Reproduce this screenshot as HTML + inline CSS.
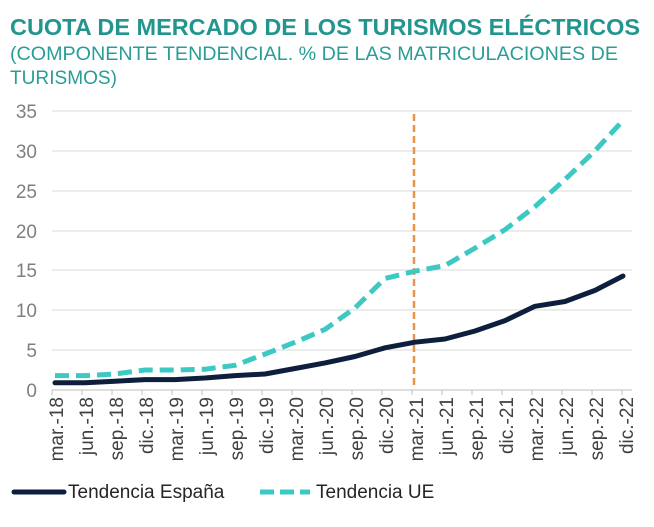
<!DOCTYPE html>
<html><head><meta charset="utf-8"><style>html,body{margin:0;padding:0;background:#fff}svg{display:block}</style></head>
<body>
<svg width="654" height="527" xmlns="http://www.w3.org/2000/svg" font-family="Liberation Sans, Arial, sans-serif">
<text x="10" y="35" font-size="23" font-weight="bold" fill="#23958f" textLength="630" lengthAdjust="spacingAndGlyphs">CUOTA DE MERCADO DE LOS TURISMOS ELÉCTRICOS</text>
<text x="10" y="60" font-size="19" fill="#2a9d97" textLength="608" lengthAdjust="spacingAndGlyphs">(COMPONENTE TENDENCIAL. % DE LAS MATRICULACIONES DE</text>
<text x="10" y="84" font-size="19" fill="#2a9d97" textLength="107" lengthAdjust="spacingAndGlyphs">TURISMOS)</text>
<g stroke="#d9d9d9" stroke-width="1">
<line x1="52" x2="632" y1="111" y2="111"/><line x1="52" x2="632" y1="151" y2="151"/><line x1="52" x2="632" y1="191" y2="191"/><line x1="52" x2="632" y1="231" y2="231"/><line x1="52" x2="632" y1="270" y2="270"/><line x1="52" x2="632" y1="310" y2="310"/><line x1="52" x2="632" y1="350" y2="350"/>
</g>
<line x1="52" x2="632" y1="390" y2="390" stroke="#bfbfbf"/>
<g font-size="19" fill="#7f7f7f" text-anchor="end">
<text x="37" y="118">35</text><text x="37" y="158">30</text><text x="37" y="198">25</text><text x="37" y="238">20</text><text x="37" y="277">15</text><text x="37" y="317">10</text><text x="37" y="357">5</text><text x="37" y="397">0</text>
</g>
<g stroke="#bfbfbf">
<line x1="52" x2="52" y1="390" y2="395"/><line x1="82" x2="82" y1="390" y2="395"/><line x1="112" x2="112" y1="390" y2="395"/><line x1="142" x2="142" y1="390" y2="395"/><line x1="172" x2="172" y1="390" y2="395"/><line x1="202" x2="202" y1="390" y2="395"/><line x1="232" x2="232" y1="390" y2="395"/><line x1="262" x2="262" y1="390" y2="395"/><line x1="292" x2="292" y1="390" y2="395"/><line x1="322" x2="322" y1="390" y2="395"/><line x1="352" x2="352" y1="390" y2="395"/><line x1="382" x2="382" y1="390" y2="395"/><line x1="412" x2="412" y1="390" y2="395"/><line x1="442" x2="442" y1="390" y2="395"/><line x1="472" x2="472" y1="390" y2="395"/><line x1="502" x2="502" y1="390" y2="395"/><line x1="532" x2="532" y1="390" y2="395"/><line x1="562" x2="562" y1="390" y2="395"/><line x1="592" x2="592" y1="390" y2="395"/><line x1="622" x2="622" y1="390" y2="395"/>
</g>
<g font-size="19" fill="#404040" text-anchor="end">
<text transform="translate(63,397) rotate(-90)">mar.-18</text>
<text transform="translate(93,397) rotate(-90)">jun.-18</text>
<text transform="translate(123,397) rotate(-90)">sep.-18</text>
<text transform="translate(153,397) rotate(-90)">dic.-18</text>
<text transform="translate(183,397) rotate(-90)">mar.-19</text>
<text transform="translate(213,397) rotate(-90)">jun.-19</text>
<text transform="translate(243,397) rotate(-90)">sep.-19</text>
<text transform="translate(273,397) rotate(-90)">dic.-19</text>
<text transform="translate(303,397) rotate(-90)">mar.-20</text>
<text transform="translate(333,397) rotate(-90)">jun.-20</text>
<text transform="translate(363,397) rotate(-90)">sep.-20</text>
<text transform="translate(393,397) rotate(-90)">dic.-20</text>
<text transform="translate(423,397) rotate(-90)">mar.-21</text>
<text transform="translate(453,397) rotate(-90)">jun.-21</text>
<text transform="translate(483,397) rotate(-90)">sep.-21</text>
<text transform="translate(513,397) rotate(-90)">dic.-21</text>
<text transform="translate(543,397) rotate(-90)">mar.-22</text>
<text transform="translate(573,397) rotate(-90)">jun.-22</text>
<text transform="translate(603,397) rotate(-90)">sep.-22</text>
<text transform="translate(633,397) rotate(-90)">dic.-22</text>
</g>
<line x1="414" x2="414" y1="114" y2="387" stroke="#e8954a" stroke-width="2.5" stroke-dasharray="7,4"/>
<polyline fill="none" stroke="#3cc9c4" stroke-width="5" stroke-dasharray="14,7" points="55,375.6 85,375.6 115,374 145,370 175,370 205,369.2 235,365.3 265,354.1 295,342.2 325,329.4 355,307.9 385,278.4 415,271.2 445,265.6 475,248.1 505,229.7 535,206.6 565,179.5 595,150.8 623,120.5"/>
<polyline fill="none" stroke="#0d1f3c" stroke-width="5" stroke-linejoin="round" stroke-linecap="round" points="55,382.8 85,382.8 115,381.2 145,379.6 175,379.6 205,378 235,375.6 265,374 295,368.5 325,362.9 355,356.5 385,347.8 415,342.2 445,339 475,331 505,320.6 535,306.3 565,301.5 595,290.4 623,276"/>
<line x1="14" x2="64" y1="492" y2="492" stroke="#0d1f3c" stroke-width="5" stroke-linecap="round"/>
<text x="68" y="498" font-size="19" fill="#262626">Tendencia España</text>
<line x1="260" x2="310" y1="492" y2="492" stroke="#3cc9c4" stroke-width="5" stroke-dasharray="14,6"/>
<text x="316" y="498" font-size="19" fill="#262626">Tendencia UE</text>
</svg>
</body></html>
